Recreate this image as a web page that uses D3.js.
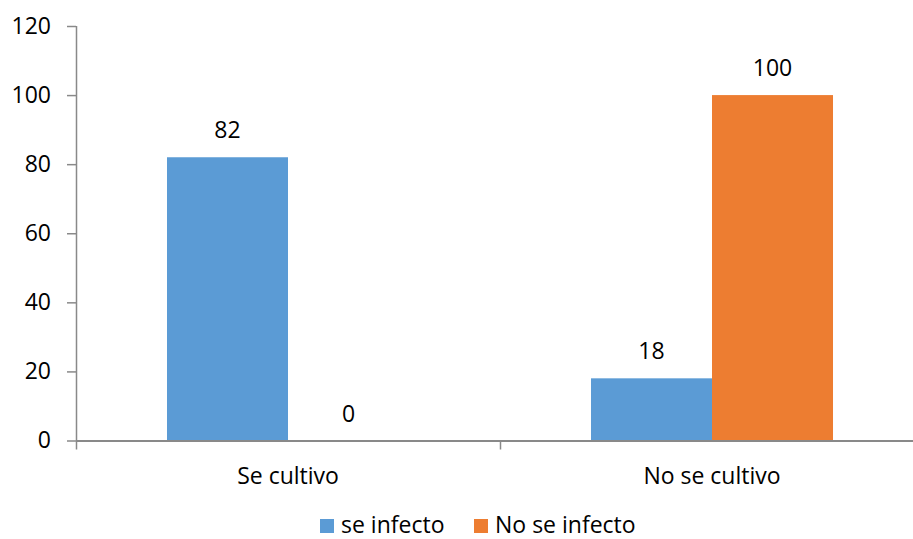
<!DOCTYPE html>
<html>
<head>
<meta charset="utf-8">
<script src="https://cdn.jsdelivr.net/npm/d3@7"></script>
<style>
  html, body { margin: 0; padding: 0; background: #fff; }
  svg { display: block; font-family: "Open Sans", sans-serif; }
</style>
</head>
<body>
<svg id="chart" width="913" height="539"></svg>
<script>
// Chart data
const categories = ["Se cultivo", "No se cultivo"];
const seriesNames = ["se infecto", "No se infecto"];
const seInfecto = [82, 18];
const noSeInfecto = [0, 100];
const yTicks = [0, 20, 40, 60, 80, 100, 120];
const colors = ["#5B9BD5", "#ED7D31"];

const seriesValues = [seInfecto, noSeInfecto];
const rows = categories.map((c, i) => ({
  category: c,
  values: seriesNames.map((s, j) => ({ series: s, idx: j, value: seriesValues[j][i] }))
}));

const svg = d3.select("#chart");
const plotLeft = 76, plotRight = 924, plotTop = 26, plotBottom = 440.5;
const axisColor = "#898989";
const fontSize = 23;

const x0 = d3.scaleBand().domain(categories).range([plotLeft, plotRight]).paddingInner(0).paddingOuter(0);
const x1 = d3.scaleBand().domain(seriesNames).range([0, x0.bandwidth()]).paddingInner(0).paddingOuter(0.752);
const y = d3.scaleLinear().domain([0, 120]).range([plotBottom, plotTop]);

// Bars
const groups = svg.append("g").selectAll("g").data(rows).join("g")
  .attr("transform", d => `translate(${x0(d.category)},0)`);

groups.selectAll("rect").data(d => d.values).join("rect")
  .attr("x", d => x1(d.series))
  .attr("width", x1.bandwidth())
  .attr("y", d => y(d.value))
  .attr("height", d => y(0) - y(d.value))
  .attr("fill", d => colors[d.idx]);

// Value labels
groups.selectAll("text").data(d => d.values).join("text")
  .attr("x", d => x1(d.series) + x1.bandwidth() / 2)
  .attr("y", d => y(d.value) - 19)
  .attr("text-anchor", "middle")
  .attr("font-size", fontSize)
  .attr("fill", "#000")
  .text(d => d.value);

// Y axis
const yAxis = svg.append("g")
  .attr("transform", `translate(${plotLeft},0)`)
  .call(d3.axisLeft(y).tickValues(yTicks).tickSize(9).tickPadding(16).tickFormat(d3.format("d")));
yAxis.select(".domain").attr("stroke", axisColor).attr("stroke-width", 1.5)
  .attr("d", `M0.5,${plotTop}V${plotBottom}`);
yAxis.selectAll(".tick line").attr("stroke", axisColor).attr("stroke-width", 1.5);
yAxis.selectAll(".tick text").attr("font-size", fontSize).attr("fill", "#000")
  .attr("font-family", "'Open Sans', sans-serif");

// X axis
const xAxis = svg.append("g")
  .attr("transform", `translate(0,${plotBottom})`)
  .call(d3.axisBottom(x0).tickSize(0).tickPadding(0));
xAxis.select(".domain").attr("stroke", axisColor).attr("stroke-width", 2)
  .attr("d", `M${plotLeft},0.5H${plotRight}`);
xAxis.selectAll(".tick text").attr("font-size", fontSize).attr("fill", "#000")
  .attr("font-family", "'Open Sans', sans-serif")
  .attr("dy", null).attr("y", 43);
// Category boundary ticks
const bounds = [plotLeft, ...categories.map(c => x0(c) + x0.bandwidth())];
xAxis.selectAll(".bound").data(bounds).join("line")
  .attr("class", "bound")
  .attr("x1", d => d + 0.5).attr("x2", d => d + 0.5)
  .attr("y1", 0).attr("y2", 9)
  .attr("stroke", axisColor).attr("stroke-width", 1.5);

// Legend
const legendX = [320, 474];
const legend = svg.append("g").selectAll("g").data(seriesNames).join("g")
  .attr("transform", (d, i) => `translate(${legendX[i]},0)`);
legend.append("rect")
  .attr("x", 0).attr("y", 519).attr("width", 14).attr("height", 14)
  .attr("fill", (d, i) => colors[i]);
legend.append("text")
  .attr("x", 21).attr("y", 533)
  .attr("font-size", fontSize).attr("fill", "#000")
  .text(d => d);
</script>
</body>
</html>
